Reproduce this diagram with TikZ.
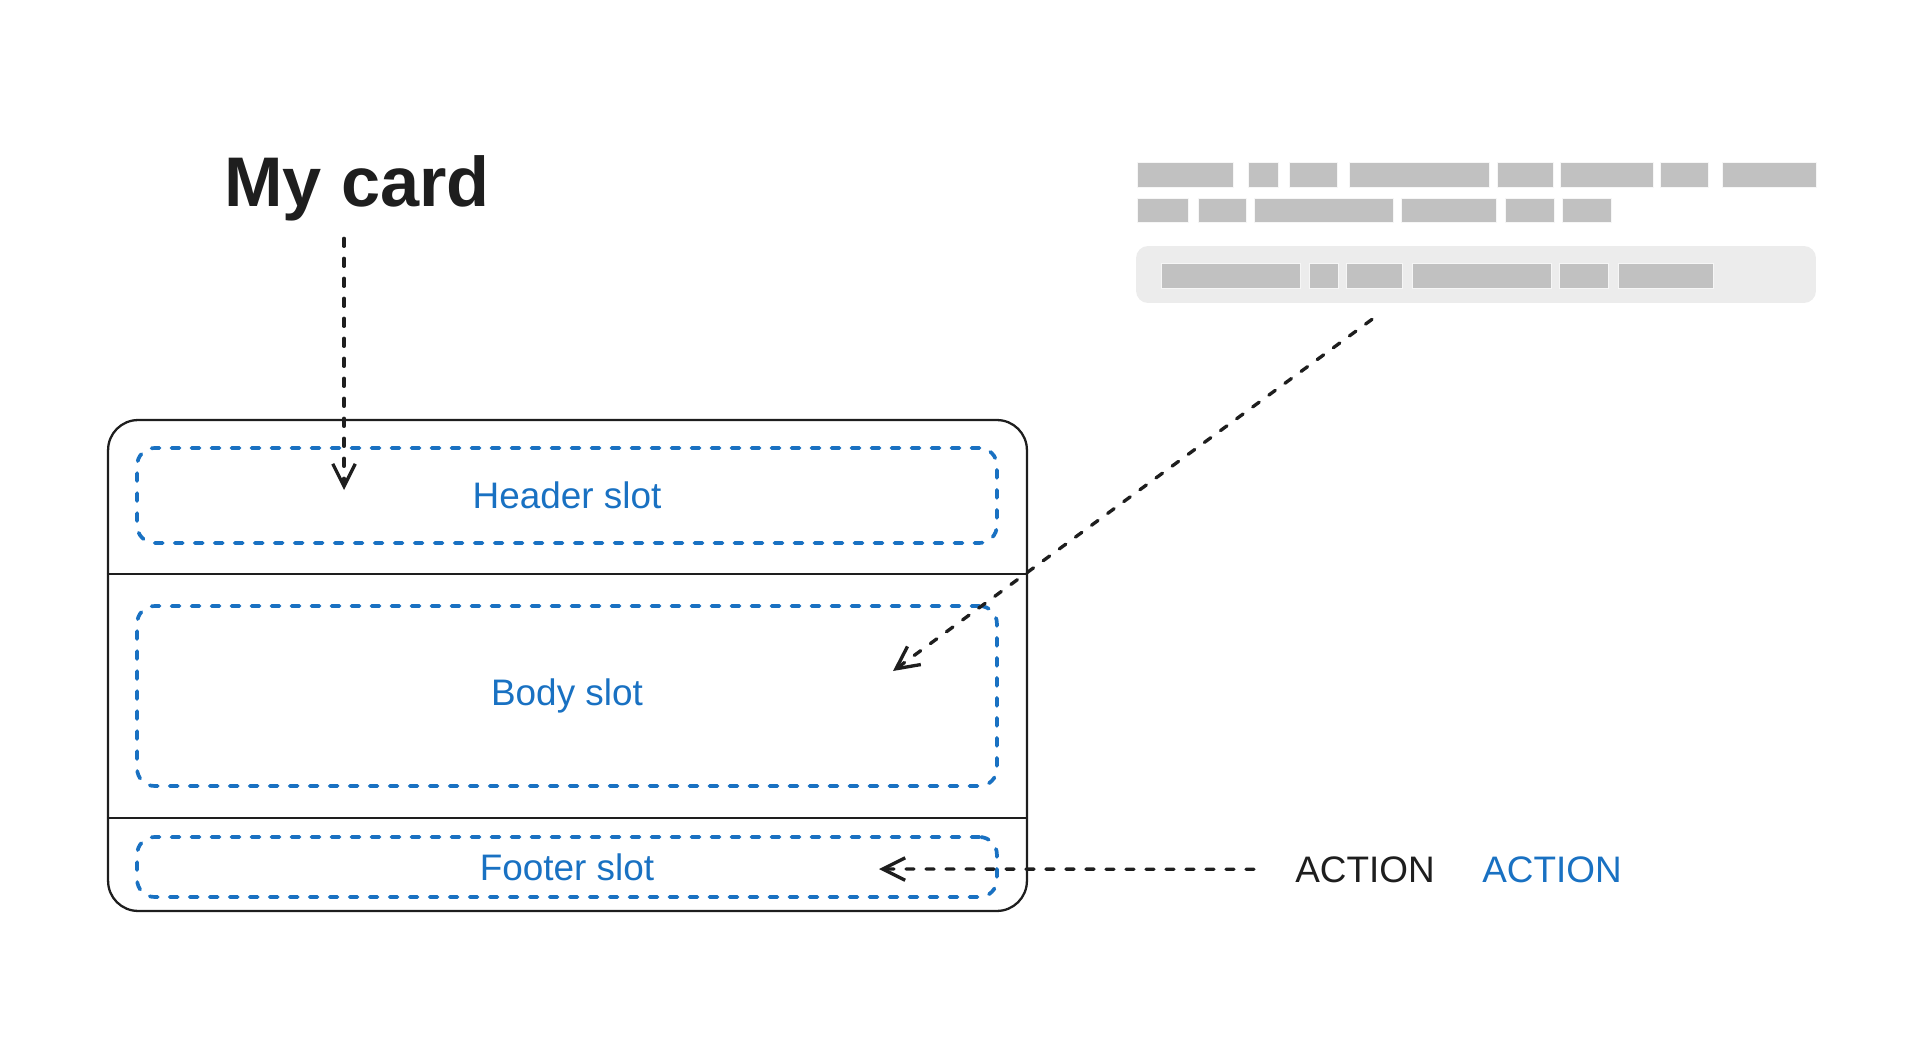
\documentclass[tikz,border=0pt]{standalone}
\usepackage{fontspec}
\setmainfont{Liberation Sans}
\usetikzlibrary{arrows.meta,calc}
\definecolor{ink}{HTML}{1E1E1E}
\definecolor{slotblue}{HTML}{1971C2}
\definecolor{barfill}{HTML}{C1C1C1}
\definecolor{boxfill}{HTML}{ECECEC}

\begin{document}
\begin{tikzpicture}[x=0.02cm, y=-0.02cm,
	slot/.style={draw=slotblue, line width=2.1pt, dash pattern=on 1.6mm off 2.4mm, line cap=round, rounded corners=3.5mm, text=slotblue, font=\fontsize{21}{25}\selectfont, minimum width=17.2cm, inner sep=0pt},
	flow/.style={draw=ink, line width=1.9pt, dash pattern=on 1.6mm off 2.4mm, line cap=round, -{Straight Barb[length=4.5mm,width=4.5mm]}},
	bar/.style={fill=barfill, draw=white!85!barfill, line width=0.4pt},
	action/.style={anchor=base, font=\fontsize{21}{25}\selectfont}]
			%%%%% START %%%%%
			\useasboundingbox (0,0) rectangle (1923,1057);
			
			\node[anchor=base, text=ink, font=\fontsize{40}{46}\selectfont\bfseries] (title) at (357,207) {My card};
			
			\node[draw=ink, line width=1.3pt, rounded corners=6mm, minimum width=18.38cm, minimum height=9.82cm] (card) at (567.5,665.5) {};
			\draw[ink, line width=1.3pt] (card.west |- 0,574) -- (card.east |- 0,574);
			\draw[ink, line width=1.3pt] (card.west |- 0,818) -- (card.east |- 0,818);
			
			\node[slot, minimum height=1.9cm] (header) at (567,495.5) {Header slot};
			\node[slot, minimum height=3.6cm] (body) at (567,696) {Body slot};
			\node[slot, minimum height=1.2cm] (footer) at (567,867) {Footer slot};
			
			\coordinate (hdrpt) at (344,490);
			\coordinate (bodypt) at (893,671);
			\coordinate (footpt) at (879,869);
			
			\node[fill=boxfill, rounded corners=2.4mm, minimum width=13.6cm, minimum height=1.14cm, inner sep=0pt] (snippet) at (1476,274.5) {};
			
			\draw[bar] (1137,162) rectangle (1233,187);
			\draw[bar] (1248,162) rectangle (1278,187);
			\draw[bar] (1289,162) rectangle (1337,187);
			\draw[bar] (1349,162) rectangle (1489,187);
			\draw[bar] (1497,162) rectangle (1553,187);
			\draw[bar] (1560,162) rectangle (1653,187);
			\draw[bar] (1660,162) rectangle (1708,187);
			\draw[bar] (1722,162) rectangle (1816,187);
			
			\draw[bar] (1137,198) rectangle (1188,222);
			\draw[bar] (1198,198) rectangle (1246,222);
			\draw[bar] (1254,198) rectangle (1393,222);
			\draw[bar] (1401,198) rectangle (1496,222);
			\draw[bar] (1505,198) rectangle (1554,222);
			\draw[bar] (1562,198) rectangle (1611,222);
			
			\draw[bar] (1161,263) rectangle (1300,288);
			\draw[bar] (1309,263) rectangle (1338,288);
			\draw[bar] (1346,263) rectangle (1402,288);
			\draw[bar] (1412,263) rectangle (1551,288);
			\draw[bar] (1559,263) rectangle (1608,288);
			\draw[bar] (1618,263) rectangle (1713,288);
			
			\node[action, text=ink] (actA) at (1365,882) {ACTION};
			\node[action, text=slotblue] (actB) at (1552,882) {ACTION};
			
			\draw[flow, shorten <=6pt] (title.south -| hdrpt) -- (hdrpt);
			\draw[flow] ($(snippet.south)+(-104,16)$) -- (bodypt);
			\draw[flow, shorten <=20pt] (actA.west) -- (footpt);
			%%%%% END %%%%%
\end{tikzpicture}
\end{document}
